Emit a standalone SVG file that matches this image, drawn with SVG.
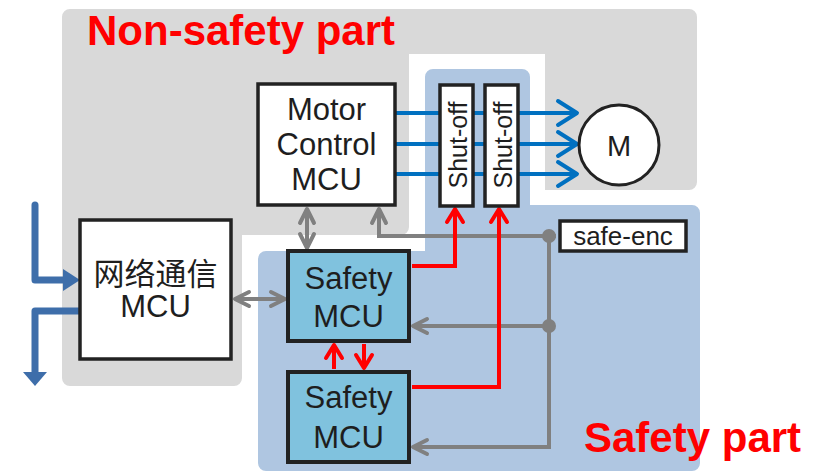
<svg xmlns="http://www.w3.org/2000/svg" width="817" height="472" viewBox="0 0 817 472">
<style>
  .box{fill:#fff;stroke:#222;stroke-width:3.5}
  .sbox{fill:#80c2de;stroke:#222;stroke-width:4}
  .t{font-family:"Liberation Sans",Arial,"Noto Sans CJK SC",sans-serif;fill:#1e1e1e;text-anchor:middle}
  .lbl{font-family:"Liberation Sans",Arial,sans-serif;font-weight:bold;fill:#ff0000;font-size:42px}
  .g{fill:none;stroke:#808080;stroke-width:4}
  .r{fill:none;stroke:#ff0000;stroke-width:4}
  .b{fill:none;stroke:#0070c0;stroke-width:4}
  .tb{fill:none;stroke:#3e6eaa;stroke-width:7;stroke-linejoin:round}
</style>
<defs>
  <marker id="ag" markerUnits="userSpaceOnUse" orient="auto-start-reverse" overflow="visible" refX="0" refY="0" markerWidth="20" markerHeight="20">
    <path d="M-14,-7 L0,0 L-14,7" fill="none" stroke="#808080" stroke-width="4" stroke-linecap="round" stroke-linejoin="round"/>
  </marker>
  <marker id="ar" markerUnits="userSpaceOnUse" orient="auto" overflow="visible" refX="0" refY="0" markerWidth="20" markerHeight="20">
    <path d="M-13,-8 L0,0 L-13,8" fill="none" stroke="#ff0000" stroke-width="4" stroke-linecap="round" stroke-linejoin="round"/>
  </marker>
  <marker id="ab" markerUnits="userSpaceOnUse" orient="auto" overflow="visible" refX="0" refY="0" markerWidth="30" markerHeight="30">
    <path d="M-19,-12 L0,0 L-19,12" fill="none" stroke="#0070c0" stroke-width="4" stroke-linecap="round" stroke-linejoin="round"/>
  </marker>
</defs>

<g id="non-safety-area">
  <path d="M70,9 H689 A8,8 0 0 1 697,17 V182 A8,8 0 0 1 689,190 H545 V54 H409 V227 A8,8 0 0 1 401,235 H242 V378 A8,8 0 0 1 234,386 H70 A8,8 0 0 1 62,378 V17 A8,8 0 0 1 70,9 Z" fill="#d9d9d9"/>
  <text class="lbl" x="87" y="45">Non-safety part</text>
</g>
<g id="safety-area">
  <path d="M433,69 H522 A8,8 0 0 1 530,77 V205 H692 A8,8 0 0 1 700,213 V463 A8,8 0 0 1 692,471 H266 A8,8 0 0 1 258,463 V259 A8,8 0 0 1 266,251 H425 V77 A8,8 0 0 1 433,69 Z" fill="#afc6e1"/>
  <text class="lbl" x="584" y="452">Safety part</text>
</g>

<g id="connectors">
  <path class="b" d="M396,113 H577" marker-end="url(#ab)"/>
  <path class="b" d="M396,144 H577" marker-end="url(#ab)"/>
  <path class="b" d="M396,174 H577" marker-end="url(#ab)"/>
  <path class="g" d="M307,209 V248" marker-start="url(#ag)" marker-end="url(#ag)"/>
  <path class="g" d="M235,299 H285" marker-start="url(#ag)" marker-end="url(#ag)"/>
  <path class="g" d="M556,236 H379 V209" marker-end="url(#ag)"/>
  <path class="g" d="M549,236 V447 H413" marker-end="url(#ag)"/>
  <path class="g" d="M549,326 H413" marker-end="url(#ag)"/>
  <circle cx="549" cy="236" r="7" fill="#808080"/>
  <circle cx="549" cy="326" r="7" fill="#808080"/>
  <path class="r" d="M412,266 H455 V209" marker-end="url(#ar)"/>
  <path class="r" d="M412,387 H499 V209" marker-end="url(#ar)"/>
  <path class="r" d="M334,369 V345" marker-end="url(#ar)"/>
  <path class="r" d="M364,344 V368" marker-end="url(#ar)"/>
  <path class="tb" d="M35,205 V280 H66" stroke-linecap="round"/>
  <polygon points="63,269 80,280 63,291" fill="#3e6eaa"/>
  <path class="tb" d="M80,311 H35 V373"/>
  <polygon points="23,372 47,372 35,386" fill="#3e6eaa"/>
</g>

<g id="motor-control-mcu">
  <rect class="box" x="258" y="84" width="137" height="121"/>
  <text class="t" font-size="31" x="326.5" y="120">Motor</text>
  <text class="t" font-size="31" x="326.5" y="155">Control</text>
  <text class="t" font-size="31" x="326.5" y="190">MCU</text>
</g>
<g id="network-mcu">
  <rect class="box" x="80" y="220" width="151" height="139"/>
  <text class="t" font-size="31" x="155.5" y="285">网络通信</text>
  <text class="t" font-size="31" x="155.5" y="317">MCU</text>
</g>
<g id="safety-mcu-1">
  <rect class="sbox" x="288" y="251" width="121" height="90"/>
  <text class="t" font-size="31" x="348.5" y="289">Safety</text>
  <text class="t" font-size="31" x="348.5" y="327">MCU</text>
</g>
<g id="safety-mcu-2">
  <rect class="sbox" x="288" y="372" width="121" height="90"/>
  <text class="t" font-size="31" x="348.5" y="408">Safety</text>
  <text class="t" font-size="31" x="348.5" y="448">MCU</text>
</g>
<g id="shut-off-1">
  <rect class="box" x="440" y="85" width="33" height="121" stroke-width="3"/>
  <text class="t" font-size="25" transform="translate(467,145) rotate(-90)">Shut-off</text>
</g>
<g id="shut-off-2">
  <rect class="box" x="485" y="85" width="33" height="121" stroke-width="3"/>
  <text class="t" font-size="25" transform="translate(512,145) rotate(-90)">Shut-off</text>
</g>
<g id="motor">
  <circle cx="619" cy="145" r="40" fill="#fff" stroke="#222" stroke-width="3"/>
  <text class="t" font-size="29" x="619" y="156">M</text>
</g>
<g id="safe-enc">
  <rect class="box" x="560" y="221" width="126" height="30" stroke-width="3"/>
  <text class="t" font-size="26" x="623" y="245">safe-enc</text>
</g>
</svg>
